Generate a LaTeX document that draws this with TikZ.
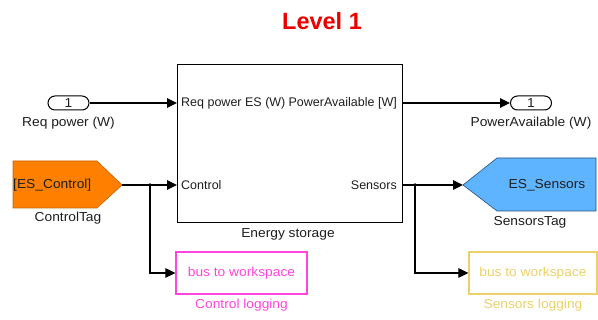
\documentclass[tikz,border=0pt]{standalone}
\usepackage{fontspec}
\setmainfont[FakeStretch=1.06]{Liberation Sans}
\newfontfamily\plainfont{Liberation Sans}
\usetikzlibrary{arrows.meta,shapes.misc}
\definecolor{tagorange}{RGB}{255,128,0}
\definecolor{tagorangeline}{RGB}{200,95,0}
\definecolor{tagblue}{RGB}{95,180,255}
\definecolor{tagblueline}{RGB}{40,80,130}
\definecolor{logmag}{RGB}{255,70,220}
\definecolor{loggold}{RGB}{236,208,105}
\definecolor{titlered}{RGB}{235,0,0}
\definecolor{txt}{RGB}{30,30,30}
\begin{document}
\begin{tikzpicture}[x=1pt,y=-1pt,
  font=\fontsize{13}{15}\selectfont, text=txt,
  wire/.style={line width=1.1pt, draw=black, -{Triangle[length=10pt,width=9.5pt]}},
  portoval/.style={rounded rectangle, draw=black, line width=1pt, minimum width=41pt, minimum height=14pt, inner sep=0pt},
  blocklabel/.style={inner sep=0pt},
  portlabel/.style={inner sep=0pt, font=\plainfont\fontsize{12.5}{14}\selectfont},
  junction/.style={circle, fill=black, minimum size=3.5pt, inner sep=0pt},
  logbox/.style={draw, line width=1.2pt, minimum width=131pt, minimum height=42pt, inner sep=0pt}]
\useasboundingbox (0,0) rectangle (598,320);

% title
\node[font=\plainfont\fontsize{23.5}{26}\selectfont\bfseries, text=titlered] (title) at (322,21) {Level 1};

% main block
\node[draw=black, line width=1pt, minimum width=225pt, minimum height=158pt, inner sep=0pt] (es) at (289.5,144) {};
\node[blocklabel, anchor=north] (eslabel) at (288,228) {Energy storage};
\coordinate (esin1) at (177,103);
\coordinate (esin2) at (177,185);
\coordinate (esout1) at (402,103);
\coordinate (esout2) at (402,185);
\node[portlabel, anchor=west] (pin1) at (181,103) {Req power ES (W)};
\node[portlabel, anchor=west] (pin2) at (181,185) {Control};
\node[portlabel, anchor=east] (pout1) at (397,103) {PowerAvailable [W]};
\node[portlabel, anchor=east] (pout2) at (397,185) {Sensors};

% inport / outport
\node[portoval] (inport) at (68.5,103) {1};
\node[blocklabel, anchor=north] (inlabel) at (68.5,117) {Req power (W)};
\node[portoval] (outport) at (531,103) {1};
\node[blocklabel, anchor=north] (outlabel) at (531,117) {PowerAvailable (W)};

% control tag
\path[fill=tagorange, draw=tagorangeline, line width=0.6pt] (13,161) -- (97,161) -- (122,185) -- (97,208) -- (13,208) -- cycle;
\coordinate (ctag) at (122,185);
\node[blocklabel, anchor=west] (ctagtext) at (13,185) {[ES\_Control]};
\node[blocklabel, anchor=north] (ctaglabel) at (68,212) {ControlTag};

% sensors tag
\path[fill=tagblue, draw=tagblueline, line width=0.6pt] (463,185) -- (497,158) -- (596,158) -- (596,211) -- (497,211) -- cycle;
\coordinate (stag) at (463,185);
\node[blocklabel] (stagtext) at (547,185) {ES\_Sensors};
\node[blocklabel, anchor=north] (staglabel) at (530,216) {SensorsTag};

% logging boxes
\node[logbox, draw=logmag, text=logmag] (clog) at (241.5,273) {bus to workspace};
\node[blocklabel, anchor=north, text=logmag] (cloglabel) at (241.5,299) {Control logging};
\node[logbox, draw=loggold, text=loggold, minimum width=128pt] (slog) at (533,273) {bus to workspace};
\node[blocklabel, anchor=north, text=loggold] (sloglabel) at (533,299) {Sensors logging};

% wires
\draw[wire] (inport.east) -- (esin1);
\draw[wire] (esout1) -- (outport.west);
\draw[wire] (ctag) -- (esin2);
\node[junction] (cj) at (150,185) {};
\draw[wire] (cj.center) |- (clog.west);
\draw[wire] (esout2) -- (stag);
\node[junction] (sj) at (415,185) {};
\draw[wire] (sj.center) |- (slog.west);
\end{tikzpicture}
\end{document}
